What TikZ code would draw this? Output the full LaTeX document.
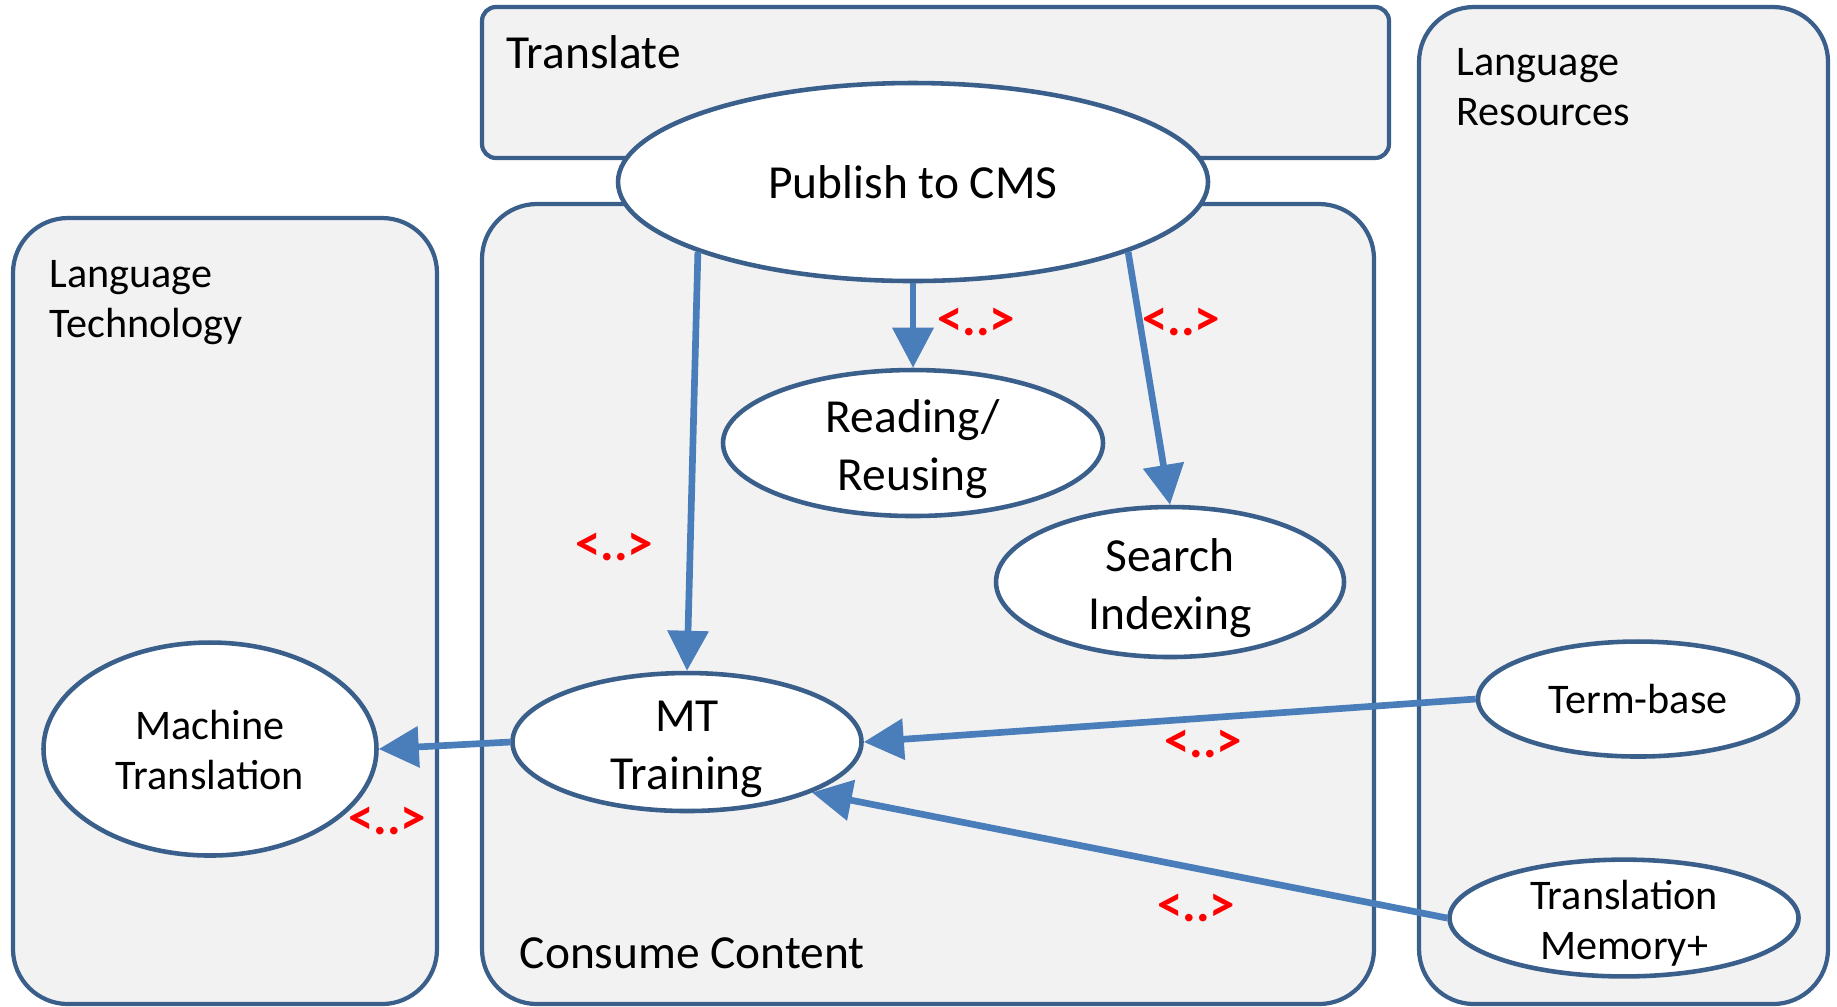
\documentclass[tikz,border=0pt]{standalone}
\usepackage{fontspec}
\setmainfont{Carlito}
\usepackage{tikz}
\usetikzlibrary{shapes.geometric,arrows.meta,positioning}

\definecolor{laneline}{RGB}{58,95,139}
\definecolor{lanefill}{RGB}{242,242,242}
\definecolor{flow}{RGB}{74,126,187}

\begin{document}
\begin{tikzpicture}[node distance=2cm,on grid]
  \tikzstyle{lane}=[rectangle,draw=laneline,fill=lanefill,line width=1.2pt,
              rounded corners=0.55cm,inner sep=0pt]
  \tikzstyle{lanetitle}=[inner sep=0pt,align=left,
              font=\fontsize{12}{14.2}\selectfont]
  \tikzstyle{task}=[ellipse,draw=laneline,fill=white,line width=1.3pt,
              inner sep=0pt,align=center,font=\fontsize{13.5}{16.5}\selectfont]
  \tikzstyle{store}=[task,font=\fontsize{12}{14.3}\selectfont]
  % two-line labels sit a bit low in their ellipse
  \tikzstyle{twoline}=[text height=27pt,text depth=0pt]
  \tikzstyle{flowarrow}=[draw=flow,line width=1.9pt,
              -{Triangle[length=0.40cm,width=0.40cm,fill=flow]}]
  \tikzstyle{tag}=[text=red,font=\fontsize{14.5}{16}\selectfont\bfseries]

  \useasboundingbox (0,0) rectangle (18.37,-10.06);

  % swimlanes
  \node[lane,minimum width=9.07cm,minimum height=1.51cm,rounded corners=0.14cm]
    (translatebox) at (9.355,-0.825) {};
  \node[lane,minimum width=4.09cm,minimum height=9.97cm] (resbox) at (16.235,-5.055) {};
  \node[lane,minimum width=4.24cm,minimum height=7.86cm] (techbox) at (2.25,-6.11) {};
  \node[lane,minimum width=8.92cm,minimum height=8.00cm] (consumebox) at (9.28,-6.04) {};

  \node[lanetitle,anchor=base west,font=\fontsize{13.5}{16.5}\selectfont]
    (translatelbl) at (5.06,-0.68) {Translate};
  \node[lanetitle,anchor=base west,font=\fontsize{13.5}{16.5}\selectfont]
    (consumelbl) at (5.19,-9.68) {Consume Content};
  \node[lanetitle,anchor=north west] (techlbl) at (0.49,-2.60) {Language\\Technology};
  \node[lanetitle,anchor=north west] (reslbl) at (14.56,-0.48) {Language\\Resources};

  % activities
  \node[task,minimum width=5.90cm,minimum height=1.98cm] (pub) at (9.13,-1.82) {Publish to CMS};
  \node[task,twoline,minimum width=3.80cm,minimum height=1.46cm] (read) [below=2.61cm of pub] {Reading/\\Reusing};
  \node[task,twoline,minimum width=3.48cm,minimum height=1.50cm] (search) [below right=4.00cm and 2.57cm of pub] {Search\\Indexing};
  \node[task,twoline,minimum width=3.49cm,minimum height=1.38cm] (mt) [below left=5.60cm and 2.26cm of pub] {MT\\Training};
  \node[store,twoline,text height=23pt,minimum width=3.33cm,minimum height=2.13cm] (mtrans) [below left=0.07cm and 4.77cm of mt] {Machine\\Translation};
  \node[store,minimum width=3.20cm,minimum height=1.15cm] (term) [above right=0.43cm and 9.51cm of mt] {Term-base};
  \node[store,twoline,text height=23.5pt,minimum width=3.49cm,minimum height=1.14cm] (tm) [below left=2.19cm and 0.14cm of term] {Translation\\Memory+};

  % flows
  \draw[flowarrow] (pub.198.8) -- (mt.north);
  \draw[flowarrow] (pub.south) -- (read.north);
  \draw[flowarrow] (pub.-18.8) -- (search.north);
  \draw[flowarrow] (mt.west) -- (mtrans.east);
  \draw[flowarrow] (term.west) -- (mt.east);
  \draw[flowarrow] (tm.west) -- (mt.-22);

  \node[tag] (tagread) at (9.76,-3.22) {<..>};
  \node[tag] (tagsearch) at (11.81,-3.22) {<..>};
  \node[tag] (tagmt) at (6.14,-5.47) {<..>};
  \node[tag] (tagterm) at (12.03,-7.44) {<..>};
  \node[tag] (tagtm) at (11.96,-9.08) {<..>};
  \node[tag] (tagmtrans) at (3.87,-8.21) {<..>};
\end{tikzpicture}
\end{document}
